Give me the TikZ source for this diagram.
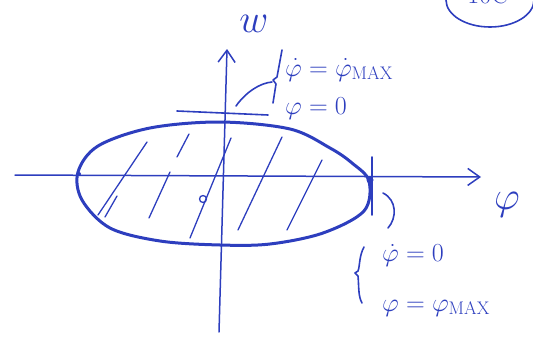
\RequirePackage{fix-cm}
\documentclass[tikz,border=0pt]{standalone}
\usetikzlibrary{arrows.meta}
\definecolor{ink}{RGB}{45,62,190}
\begin{document}
\begin{tikzpicture}[x=1pt,y=-1pt,
  axis/.style={draw=ink, line width=1.5pt, line cap=round, -{Straight Barb[length=12pt,width=17pt,line width=1.5pt]}},
  curve/.style={draw=ink, line width=3pt},
  hatch/.style={draw=ink, line width=1.3pt, line cap=round},
  pen/.style={draw=ink, line width=1.6pt, line cap=round, line join=round},
  lbl/.style={text=ink, font=\fontsize{26}{30}\selectfont, inner sep=0pt},
  big/.style={text=ink, font=\fontsize{40}{46}\selectfont, inner sep=0pt}]
\useasboundingbox (0,0) rectangle (533,348);
% axes
\coordinate (xl) at (15,175); \coordinate (xr) at (481,177);
\coordinate (yb) at (219,332); \coordinate (yt) at (227,49);
\draw[axis] (xl) -- (xr);
\draw[axis] (yb) -- (yt);
% orbit
\draw[curve] plot[smooth cycle, tension=0.55] coordinates {(78,172) (98,146) (150,128) (220,122) (290,129) (330,148) (352,163) (369,181) (364,211) (323,233) (270,244) (220,245) (160,241) (110,228) (82,200)};
\fill[ink] (370,180) circle (3.5pt);
\fill[ink] (79,174) circle (2pt);
% hatching
\draw[hatch] (98,215) -- (147,142);
\draw[hatch] (105,217) -- (117,196);
\draw[hatch] (149,218) -- (170,172);
\draw[hatch] (177,157) -- (189,134);
\draw[hatch] (190,238) -- (231,138);
\draw[hatch] (238,230) -- (282,137);
\draw[hatch] (287,230) -- (322,160);
\node[draw=ink, circle, minimum size=7pt, inner sep=0pt, line width=1.3pt] (o) at (203,199) {};
% tangent and tick marks
\coordinate (ta) at (177,111); \coordinate (tb) at (268,115);
\draw[pen] (ta) -- (tb);
\coordinate (ka) at (372,157); \coordinate (kb) at (372,215);
\draw[pen] (ka) -- (kb);
% top annotation
\coordinate (b1) at (282,50); \coordinate (b2) at (273,103);
\draw[pen] (b1) -- (277,77) -- (273,80) -- (276,84) -- (b2);
\coordinate (c1) at (236,106); \coordinate (c2) at (272,82);
\draw[pen] (c1) .. controls (246,92) and (260,83) .. (c2);
\node[lbl, anchor=west] (t1) at (285,70) {$\dot\varphi = \dot\varphi_{\mathrm{MAX}}$};
\node[lbl, anchor=west] (t2) at (285,109) {$\varphi = 0$};
% bottom annotation
\coordinate (p1) at (383,193); \coordinate (p2) at (388,228);
\draw[pen] (p1) .. controls (397,200) and (397,218) .. (p2);
\coordinate (q1) at (364,247); \coordinate (q2) at (362,303);
\draw[pen] (q1) .. controls (359,256) and (360,266) .. (358,271) -- (355,273) -- (358,276) .. controls (359,286) and (358,296) .. (q2);
\node[lbl, anchor=west] (t3) at (382,255) {$\dot\varphi = 0$};
\node[lbl, anchor=west] (t4) at (382,308) {$\varphi = \varphi_{\mathrm{MAX}}$};
% axis labels
\node[big] (phi) at (507,205) {$\varphi$};
\node[big] (w) at (254,24) {$w$};
% page tag (cut off at the top)
\begin{scope}
\clip (0,0) rectangle (533,348);
\draw[pen] (490,0) ellipse [x radius=44pt, y radius=27pt];
\node[lbl, anchor=base] (tag) at (488,4) {10C};
\end{scope}
\end{tikzpicture}
\end{document}
